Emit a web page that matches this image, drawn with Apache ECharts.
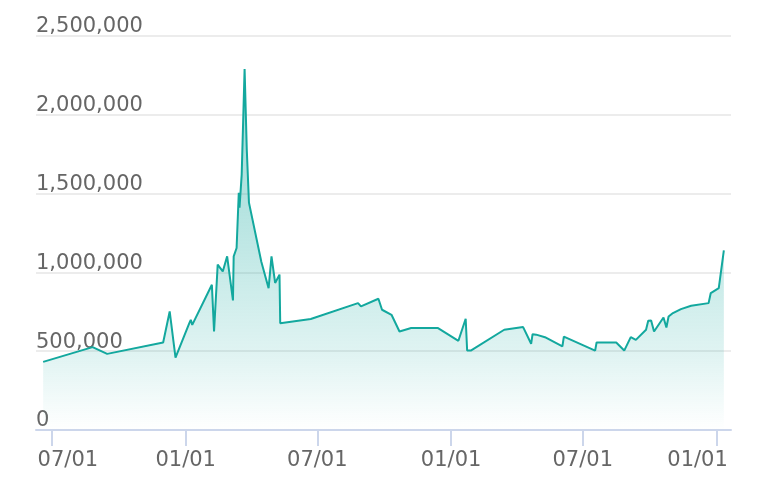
<!DOCTYPE html>
<html>
<head>
<meta charset="utf-8">
<script src="https://cdn.jsdelivr.net/npm/echarts@6/dist/echarts.min.js"></script>
<style>
  html, body { margin: 0; padding: 0; background: #fff; }
  #chart { width: 760px; height: 490px; }
</style>
</head>
<body>
<div id="chart"></div>
<script>
// values
const dates = [
  '2020-06-19', '2020-08-26', '2020-09-15', '2020-12-01', '2020-12-10', '2020-12-18',
  '2021-01-06', '2021-01-08', '2021-01-10', '2021-02-06', '2021-02-09', '2021-02-14',
  '2021-02-21', '2021-02-27', '2021-03-07', '2021-03-08', '2021-03-12', '2021-03-15',
  '2021-03-16', '2021-03-19', '2021-03-23', '2021-03-26', '2021-03-29', '2021-04-15',
  '2021-04-25', '2021-04-29', '2021-05-04', '2021-05-10', '2021-05-11', '2021-06-22',
  '2021-08-26', '2021-08-30', '2021-09-23', '2021-09-28', '2021-10-11', '2021-10-22',
  '2021-11-07', '2021-12-14', '2022-01-11', '2022-01-21', '2022-01-23', '2022-01-28',
  '2022-03-15', '2022-04-10', '2022-04-21', '2022-04-23', '2022-04-28', '2022-05-10',
  '2022-06-03', '2022-06-05', '2022-07-18', '2022-07-20', '2022-08-16', '2022-08-27',
  '2022-09-05', '2022-09-12', '2022-09-26', '2022-09-29', '2022-10-03', '2022-10-07',
  '2022-10-20', '2022-10-24', '2022-10-27', '2022-11-02', '2022-11-13', '2022-11-27',
  '2022-12-21', '2022-12-24', '2023-01-04', '2023-01-11'
]
const values = [
  432000, 526000, 483000, 555000, 752000, 460000,
  678000, 699000, 667000, 922000, 625000, 1049000,
  1006000, 1102000, 822000, 1102000, 1155000, 1505000,
  1410000, 1620000, 2290000, 1780000, 1443000, 1068000,
  900000, 1102000, 933000, 986000, 678000, 704000,
  805000, 784000, 833000, 763000, 731000, 625000,
  647000, 647000, 566000, 706000, 504000, 504000,
  636000, 653000, 547000, 608000, 605000, 589000,
  530000, 593000, 504000, 555000, 555000, 504000,
  589000, 572000, 636000, 693000, 695000, 625000,
  714000, 650000, 720000, 742000, 767000, 788000,
  805000, 869000, 900000, 1140000
]
// half-year tick dates on the x axis
const tickDates = ['2020-07-01', '2021-01-01', '2021-07-01', '2022-01-01', '2022-07-01', '2023-01-01']

const lineColor = '#13a89e'
const labelColor = '#666666'
const fontFamily = 'DejaVu Sans'
const toTs = d => +echarts.time.parse(d)
const tickValues = tickDates.map(toTs)
const firstTick = tickValues[0]
const lastTick = tickValues[tickValues.length - 1]

const chart = echarts.init(document.getElementById('chart'))
chart.setOption({
  animation: false,
  grid: { left: 36, right: 29, top: 36, bottom: 60 },
  xAxis: {
    type: 'value',
    min: function (v) { return v.min - (v.max - v.min) * 0.0105 },
    max: function (v) { return v.max + (v.max - v.min) * 0.0105 },
    axisLine: { lineStyle: { color: '#ccd6eb', width: 2 } },
    axisTick: { show: true, length: 16, customValues: tickValues, lineStyle: { color: '#ccd6eb', width: 2 } },
    splitLine: { show: false },
    axisLabel: {
      customValues: tickValues,
      color: labelColor,
      fontFamily: fontFamily,
      fontSize: 21,
      margin: 20,
      hideOverlap: false,
      formatter: function (value) {
        const s = echarts.time.format(value, '{MM}/{dd}', false)
        if (value === firstTick) return '{first|' + s + '}'
        if (value === lastTick) return '{last|' + s + '}'
        return s
      },
      rich: {
        first: { color: labelColor, fontFamily: fontFamily, fontSize: 21, padding: [0, 0, 0, 32] },
        last: { color: labelColor, fontFamily: fontFamily, fontSize: 21, padding: [0, 38, 0, 0] }
      }
    }
  },
  yAxis: {
    type: 'value',
    min: 0,
    max: 2500000,
    interval: 500000,
    axisLine: { show: false },
    axisTick: { show: false },
    splitLine: { lineStyle: { color: '#e6e6e6', width: 1.5 } },
    axisLabel: {
      inside: true,
      margin: 0,
      verticalAlign: 'bottom',
      lineHeight: 18,
      color: labelColor,
      fontFamily: fontFamily,
      fontSize: 21,
      formatter: function (v) { return v.toLocaleString('en-US') }
    }
  },
  series: [
    {
      type: 'line',
      data: dates.map((d, i) => [toTs(d), values[i]]),
      showSymbol: false,
      lineStyle: { color: lineColor, width: 2 },
      itemStyle: { color: lineColor },
      areaStyle: {
        color: new echarts.graphic.LinearGradient(0, 0, 0, 1, [
          { offset: 0, color: 'rgba(19, 168, 158, 0.56)' },
          { offset: 0.4, color: 'rgba(19, 168, 158, 0.44)' },
          { offset: 0.8, color: 'rgba(19, 168, 158, 0.18)' },
          { offset: 1, color: 'rgba(19, 168, 158, 0)' }
        ])
      }
    }
  ]
})
</script>
</body>
</html>
